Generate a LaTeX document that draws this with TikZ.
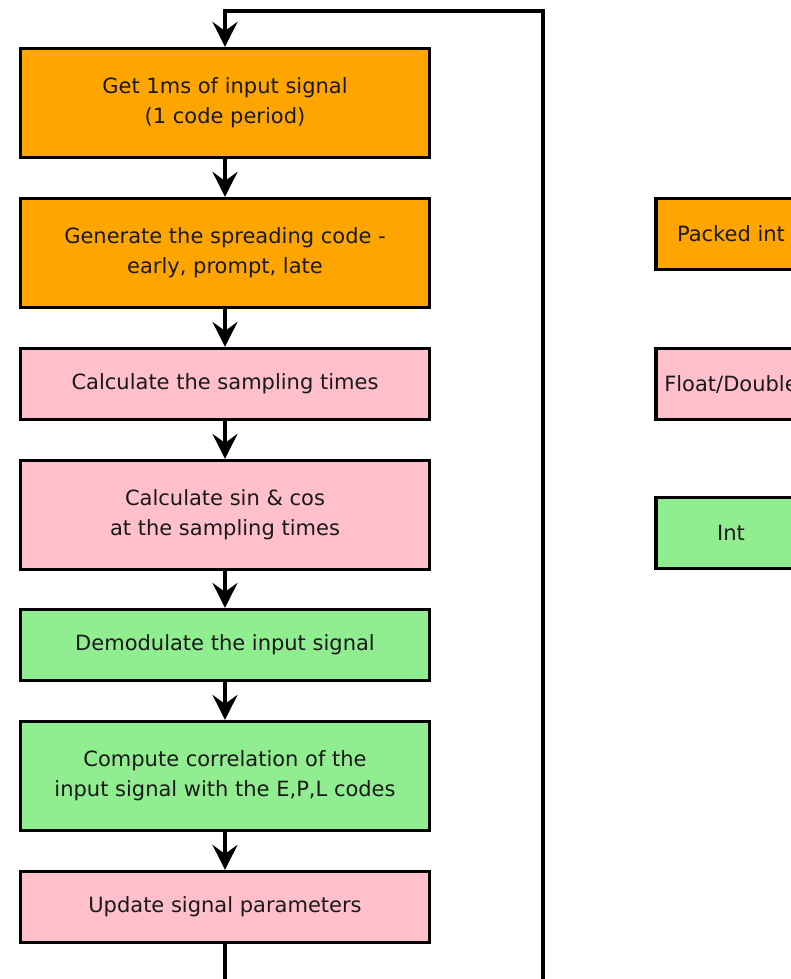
\documentclass[tikz,border=0pt]{standalone}
\usepackage{fontspec}
\setmainfont{DejaVu Sans}
\usetikzlibrary{arrows.meta}
\definecolor{packedc}{HTML}{FFA500}
\definecolor{floatc}{HTML}{FFC0CB}
\definecolor{intc}{HTML}{90EE90}
\tikzset{
  stepbox/.style={draw=black, line width=3.2pt, minimum width=409pt, inner sep=0pt,
    align=center, font=\fontsize{21}{30}\selectfont, text=black!90},
  tallbox/.style={stepbox, minimum height=109pt},
  shortbox/.style={stepbox, minimum height=71pt},
  keybox/.style={stepbox, minimum width=150pt, minimum height=71pt},
  flow/.style={line width=3.2pt, -{Stealth[length=25pt, width=25pt, inset=9pt]}},
}
\begin{document}
\begin{tikzpicture}[x=1pt, y=-1pt]
  \clip (0,0) rectangle (791,979);
  \fill[white] (0,0) rectangle (791,979);

  % processing chain
  \node[tallbox, fill=packedc]  (get)   at (225,103) {Get 1ms of input signal\\(1 code period)};
  \node[tallbox, fill=packedc]  (gen)   at (225,253) {Generate the spreading code -\\early, prompt, late};
  \node[shortbox, fill=floatc]  (samp)  at (225,384) {Calculate the sampling times};
  \node[tallbox, fill=floatc]   (trig)  at (225,515) {Calculate sin \& cos\\at the sampling times};
  \node[shortbox, fill=intc]    (demod) at (225,645) {Demodulate the input signal};
  \node[tallbox, fill=intc]     (corr)  at (225,776) {Compute correlation of the\\input signal with the E,P,L codes};
  \node[shortbox, fill=floatc]  (upd)   at (225,907) {Update signal parameters};

  % data type key
  \node[keybox, fill=packedc] (kpacked) at (731,234) {Packed int};
  \node[keybox, fill=floatc]  (kfloat)  at (731,384) {Float/Double};
  \node[keybox, fill=intc]    (kint)    at (731,533) {Int};

  \draw[flow] (get) -- (gen);
  \draw[flow] (gen) -- (samp);
  \draw[flow] (samp) -- (trig);
  \draw[flow] (trig) -- (demod);
  \draw[flow] (demod) -- (corr);
  \draw[flow] (corr) -- (upd);

  % feedback loop back to the first step
  \coordinate (loopbl) at (225,1000);
  \coordinate (loopbr) at (543,1000);
  \coordinate (looptr) at (543,11);
  \coordinate (looptl) at (225,11);
  \draw[flow, line join=miter] (upd.south) -- (loopbl) -- (loopbr) -- (looptr) -- (looptl) -- (get.north);
\end{tikzpicture}
\end{document}
